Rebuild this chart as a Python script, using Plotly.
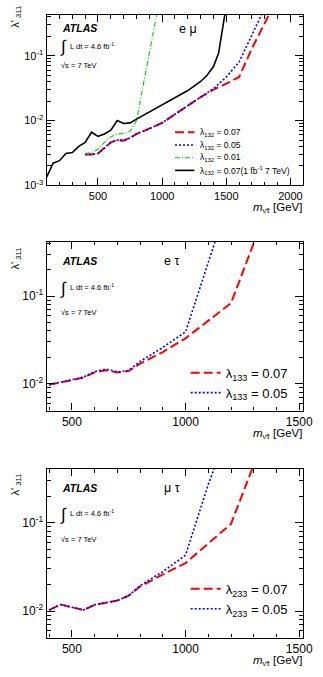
import math
import plotly.graph_objects as go

W, H = 323, 677
FONT = "Liberation Sans, Arial, Helvetica, sans-serif"

# ---------------- data ----------------
# panel 1 : e mu
m1_black = [100, 150, 200, 250, 300, 350, 400, 450, 500, 550, 600, 650, 700, 750, 800,
            900, 1000, 1100, 1200, 1300, 1350, 1400, 1440, 1500]
l1_black = [0.00134, 0.0022, 0.0024, 0.0031, 0.0032, 0.0040, 0.0046, 0.0066, 0.0057, 0.0062,
            0.0071, 0.0100, 0.0090, 0.0092, 0.0105, 0.0135, 0.0172, 0.0225, 0.029, 0.040,
            0.050, 0.068, 0.11, 0.6]
m1_green = [400, 450, 500, 550, 600, 650, 700, 750, 800, 900, 1000]
l1_green = [0.0031, 0.0032, 0.0036, 0.0046, 0.0056, 0.0062, 0.0063, 0.0068, 0.0100, 0.11, 1.2]
m1_red = [400, 450, 500, 550, 600, 650, 700, 750, 800, 900, 1000, 1100, 1200, 1300, 1400,
          1500, 1600, 1700, 1800, 1900]
l1_red = [0.0030, 0.0030, 0.0031, 0.0038, 0.0046, 0.0050, 0.0049, 0.0054, 0.0062, 0.0075,
          0.0092, 0.0125, 0.0170, 0.0230, 0.030, 0.037, 0.047, 0.13, 0.32, 0.8]
m1_blue = [400, 450, 500, 550, 600, 650, 700, 750, 800, 900, 1000, 1100, 1200, 1300, 1400,
           1500, 1600, 1700, 1800]
l1_blue = [0.0030, 0.0030, 0.0031, 0.0038, 0.0046, 0.0050, 0.0049, 0.0054, 0.0062, 0.0075,
           0.0092, 0.0125, 0.0170, 0.0230, 0.031, 0.047, 0.080, 0.21, 0.55]

# panel 2 : e tau
m2_red = [400, 450, 500, 550, 600, 650, 700, 750, 800, 900, 1000, 1200, 1300]
l2_red = [0.0098, 0.0103, 0.0110, 0.0118, 0.0135, 0.0143, 0.0135, 0.0140, 0.0170, 0.023,
          0.033, 0.083, 0.40]
m2_blue = [400, 450, 500, 550, 600, 650, 700, 750, 800, 900, 1000, 1100, 1150]
l2_blue = [0.0098, 0.0104, 0.0111, 0.0119, 0.0138, 0.0147, 0.0137, 0.0142, 0.0180, 0.026,
           0.039, 0.25, 0.6]

# panel 3 : mu tau
m3_red = [400, 450, 500, 550, 600, 650, 700, 750, 800, 900, 1000, 1200, 1300]
l3_red = [0.0103, 0.0119, 0.0111, 0.0103, 0.0118, 0.0124, 0.0132, 0.0150, 0.0190, 0.026,
          0.035, 0.097, 0.45]
m3_blue = [400, 450, 500, 550, 600, 650, 700, 750, 800, 900, 1000, 1100, 1150]
l3_blue = [0.0103, 0.0119, 0.0111, 0.0103, 0.0118, 0.0124, 0.0132, 0.0150, 0.0195, 0.028,
           0.043, 0.27, 0.6]

RED, BLUE, GREEN, BLACK = "#ff0000", "#0000ff", "#00cc00", "#000000"

# ---------------- geometry (pixels) ----------------
XL, XR = 48, 312
panels = [(15, 187), (244, 414.3), (473.3, 643.3)]


def ydom(t, b):
    return [1 - b / H, 1 - t / H]


fig = go.Figure()

# panel 1 traces
fig.add_trace(go.Scatter(x=m1_red, y=l1_red, mode="lines", xaxis="x", yaxis="y",
                         line=dict(color=RED, width=2, dash="9px,4px"), showlegend=False))
fig.add_trace(go.Scatter(x=m1_blue, y=l1_blue, mode="lines", xaxis="x", yaxis="y",
                         line=dict(color=BLUE, width=1.6, dash="2px,2px"), showlegend=False))
fig.add_trace(go.Scatter(x=m1_green, y=l1_green, mode="lines", xaxis="x", yaxis="y",
                         line=dict(color=GREEN, width=1.1, dash="5px,2px,1px,2px"), showlegend=False))
fig.add_trace(go.Scatter(x=m1_black, y=l1_black, mode="lines", xaxis="x", yaxis="y",
                         line=dict(color=BLACK, width=1.6), showlegend=False))

# panel 2 traces
fig.add_trace(go.Scatter(x=m2_red, y=l2_red, mode="lines", xaxis="x2", yaxis="y2",
                         name="λ<sub>133</sub> = 0.07", legend="legend2",
                         line=dict(color=RED, width=2, dash="9px,4px")))
fig.add_trace(go.Scatter(x=m2_blue, y=l2_blue, mode="lines", xaxis="x2", yaxis="y2",
                         name="λ<sub>133</sub> = 0.05", legend="legend2",
                         line=dict(color=BLUE, width=1.6, dash="2px,2px")))

# panel 3 traces
fig.add_trace(go.Scatter(x=m3_red, y=l3_red, mode="lines", xaxis="x3", yaxis="y3",
                         name="λ<sub>233</sub> = 0.07", legend="legend3",
                         line=dict(color=RED, width=2, dash="9px,4px")))
fig.add_trace(go.Scatter(x=m3_blue, y=l3_blue, mode="lines", xaxis="x3", yaxis="y3",
                         name="λ<sub>233</sub> = 0.05", legend="legend3",
                         line=dict(color=BLUE, width=1.6, dash="2px,2px")))


def xaxis_cfg(rng, dom_anchor, minor_dt, fs):
    return dict(type="linear", range=rng, domain=[XL / W, XR / W], anchor=dom_anchor,
                showgrid=False, zeroline=False, showline=True, linecolor="black", linewidth=1.3,
                mirror="ticks", ticks="inside", ticklen=7, tickcolor="black", tickwidth=1,
                dtick=500, tick0=0, tickfont=dict(family=FONT, size=fs, color="black"),
                minor=dict(ticks="inside", ticklen=3.5, dtick=minor_dt, tick0=0,
                           tickcolor="black", tickwidth=1, showgrid=False))


def yaxis_cfg(rng, dom, anchor, tv, fs):
    minor_vals = []
    for e in range(-4, 1):
        for k in range(2, 10):
            minor_vals.append(k * 10 ** e)
    return dict(type="log", range=rng, domain=dom, anchor=anchor,
                showgrid=False, zeroline=False, showline=True, linecolor="black", linewidth=1.3,
                mirror="ticks", ticks="inside", ticklen=8, tickcolor="black", tickwidth=1,
                tickvals=tv, ticktext=["10<sup>%d</sup>" % round(math.log10(v)) for v in tv],
                tickfont=dict(family=FONT, size=fs, color="black"),
                minor=dict(ticks="inside", ticklen=4, tickvals=minor_vals,
                           tickcolor="black", tickwidth=1, showgrid=False))


layout = dict(
    width=W, height=H, margin=dict(l=0, r=0, t=0, b=0),
    paper_bgcolor="white", plot_bgcolor="white",
    font=dict(family=FONT, color="black"),
    xaxis=xaxis_cfg([100, 2100], "y", 100, 11),
    yaxis=yaxis_cfg([-3, -0.37], ydom(*panels[0]), "x", [1e-3, 1e-2, 1e-1], 11),
    xaxis2=xaxis_cfg([389, 1518], "y2", 100, 12),
    yaxis2=yaxis_cfg([-2.305, -0.383], ydom(*panels[1]), "x2", [1e-2, 1e-1], 12),
    xaxis3=xaxis_cfg([389, 1518], "y3", 100, 12),
    yaxis3=yaxis_cfg([-2.298, -0.395], ydom(*panels[2]), "x3", [1e-2, 1e-1], 12),
    legend2=dict(x=191 / W, y=1 - 361 / H, xanchor="left", yanchor="top",
                 bgcolor="rgba(0,0,0,0)", font=dict(family=FONT, size=13, color="black"),
                 itemwidth=30, tracegroupgap=0),
    legend3=dict(x=191 / W, y=1 - 579 / H, xanchor="left", yanchor="top",
                 bgcolor="rgba(0,0,0,0)", font=dict(family=FONT, size=13, color="black"),
                 itemwidth=30, tracegroupgap=0),
)
fig.update_layout(**layout)

ann = []
shapes = []


def add_text(x, y, text, size, xanchor="left", yanchor="middle", angle=0):
    ann.append(dict(x=x / W, y=1 - y / H, xref="paper", yref="paper", text=text,
                    showarrow=False, xanchor=xanchor, yanchor=yanchor, textangle=angle,
                    font=dict(family=FONT, size=size, color="black")))


# panel labels
labels = [("e μ", 182, 29, 47, 66), ("e τ", 167, 263, 291, 315), ("μ τ", 167, 492, 519, 544)]
atlas_y = [28, 263, 492]
for i, (lab, lx, ly, iy, sy) in enumerate(labels):
    add_text(62, atlas_y[i], "<b><i>ATLAS</i></b>", 10.5)
    add_text(lx, ly, lab, 12.5)
    add_text(60, iy, "∫", 17)
    add_text(70, iy - 1, "L dt = 4.6 fb<sup>-1</sup>", 7.5)
    add_text(61, sy, "√s = 7 TeV", 7.5)

# axis titles
ytitle_tops = [4, 248, 476]
for yt in ytitle_tops:
    ann.append(dict(x=7 / W, y=1 - yt / H, xref="paper", yref="paper",
                    text="λ'<sub> 311</sub>", showarrow=False, textangle=-90,
                    xanchor="left", yanchor="top", font=dict(family=FONT, size=11, color="black")))
xtitle_y = [210, 438, 667]
for xy in xtitle_y:
    add_text(313, xy, "<i>m</i><sub>ν̃τ</sub> [GeV]", 11.5, xanchor="right")

# panel 1 legend (drawn compactly)
leg1 = [("λ<sub>132</sub> = 0.07", RED, 2, "9px,4px"),
        ("λ<sub>132</sub> = 0.05", BLUE, 1.6, "2px,2px"),
        ("λ<sub>132</sub> = 0.01", GREEN, 1.1, "5px,2px,1px,2px"),
        ("λ<sub>132</sub> = 0.07(1 fb<sup>-1</sup> 7 TeV)", BLACK, 1.6, "solid")]
for k, (txt, col, wd, ds) in enumerate(leg1):
    yy = 133.5 + k * 12.8
    shapes.append(dict(type="line", xref="paper", yref="paper", x0=180 / W, x1=200 / W,
                       y0=1 - yy / H, y1=1 - yy / H, line=dict(color=col, width=wd, dash=ds)))
    add_text(204, yy, txt, 8.5)

fig.update_layout(annotations=ann, shapes=shapes)
fig.write_html("out.html")
